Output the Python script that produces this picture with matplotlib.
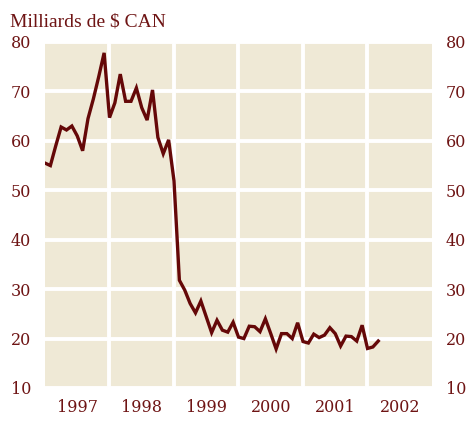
import numpy as np
import pandas as pd
import matplotlib
matplotlib.use("Agg")
import matplotlib.pyplot as plt
from matplotlib.ticker import FixedLocator, NullFormatter

# monthly values, Jan 1997 - Mar 2002 (billions CAD)
v1997 = [55.5, 55.0, 59.0, 62.8, 62.2, 63.0, 61.0, 58.0, 64.5, 68.5, 73.0, 77.8]
v1998 = [64.7, 67.7, 73.5, 68.0, 68.0, 70.7, 66.7, 64.2, 70.3, 60.7, 57.4, 60.2]
v1999 = [51.9, 31.8, 29.8, 27.1, 25.2, 27.6, 24.4, 21.2, 23.7, 21.7, 21.3, 23.3]
v2000 = [20.3, 20.0, 22.5, 22.4, 21.4, 24.0, 21.0, 17.9, 21.0, 21.0, 20.0, 23.2]
v2001 = [19.4, 19.1, 20.9, 20.2, 20.7, 22.2, 21.0, 18.5, 20.5, 20.4, 19.5, 22.7]
v2002 = [18.0, 18.3, 19.5]

values = v1997 + v1998 + v1999 + v2000 + v2001 + v2002
dates = 1997 + np.arange(len(values)) / 12.0

years = [1997, 1998, 1999, 2000, 2001, 2002]
yticks = [10, 20, 30, 40, 50, 60, 70, 80]

txt = '#6e1414'
bg = '#efe9d6'
plt.rcParams['font.family'] = ['DejaVu Serif']

fig = plt.figure(figsize=(4.67, 4.28), dpi=100)
ax = fig.add_axes([45/467, 1 - 388/428, 387/467, 346/428])
ax.set_facecolor(bg)

ax.plot(dates, values, color='#650808', lw=2.4, solid_joinstyle='miter', zorder=3)

ax.set_xlim(1997, 2003)
ax.set_ylim(10, 80)

# grid lines at year boundaries, labels at mid-year
ax.xaxis.set_major_locator(FixedLocator([1998, 1999, 2000, 2001, 2002]))
ax.xaxis.set_major_formatter(NullFormatter())
ax.xaxis.set_minor_locator(FixedLocator([y + 0.5 for y in years]))
ax.set_xticklabels([str(y) for y in years], minor=True)
ax.set_yticks(yticks)
ax.grid(True, which='major', color='white', lw=2.8, zorder=1)

ax.tick_params(axis='x', which='both', length=0, pad=8, labelsize=11.5, labelcolor=txt)
ax.tick_params(axis='y', length=0, pad=10, labelsize=11.5, labelcolor=txt,
               labelleft=True, labelright=True)
for s in ax.spines.values():
    s.set_visible(False)

fig.text(10/467, 1 - 27/428, 'Milliards de $ CAN', color=txt, fontsize=14,
         ha='left', va='baseline', family=['Liberation Serif'])

fig.savefig('out.png', dpi=100)
